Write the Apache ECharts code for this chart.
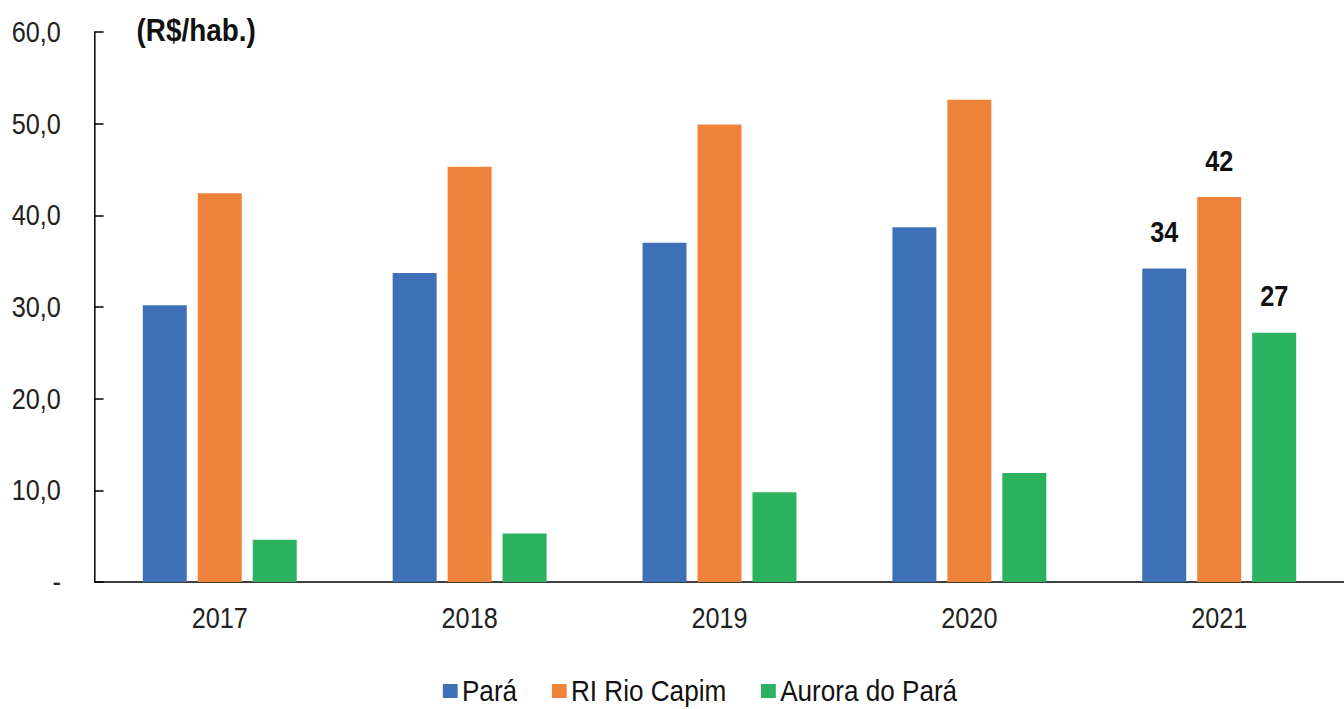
<!DOCTYPE html>
<html>
<head>
<meta charset="utf-8">
<script src="https://cdn.jsdelivr.net/npm/echarts@6/dist/echarts.min.js"></script>
<style>
html,body{margin:0;padding:0;background:#fff;overflow:hidden;width:1344px;height:709px}
/* the reference uses a condensed (Arial Narrow–like) face; emulate by drawing wider and compressing horizontally */
#c{width:1545px;height:709px;transform:scaleX(0.87);transform-origin:0 0}
</style>
</head>
<body>
<div id="c"></div>
<script>
const categories = ['2017', '2018', '2019', '2020', '2021'];
const seriesNames = ['Pará', 'RI Rio Capim', 'Aurora do Pará'];
const para = [30.2, 33.7, 37.0, 38.7, 34.2];
const rioCapim = [42.4, 45.3, 49.9, 52.6, 42.0];
const aurora = [4.6, 5.3, 9.8, 11.9, 27.2];
const labelled = [false, false, false, false, true];
const colors = ['#3E70B8', '#F0833C', '#2AB25E'];

const chart = echarts.init(document.getElementById('c'), null, { renderer: 'svg' });
const font = '"Liberation Sans", Arial, sans-serif';
function mkSeries(name, values, color) {
  return {
    name: name, type: 'bar', barWidth: '17.6%', barGap: '25%',
    itemStyle: { color: color },
    data: values.map((v, i) => ({
      value: v,
      label: { show: labelled[i] }
    })),
    label: {
      position: 'top', distance: 22, fontFamily: font, fontSize: 29, fontWeight: 'bold', color: '#111',
      formatter: p => Math.round(p.value)
    }
  };
}
chart.setOption({
  animation: false,
  title: { text: '(R$/hab.)', left: 152, top: 9, textStyle: { fontFamily: font, fontSize: 32, fontWeight: 'bold', color: '#111' } },
  grid: { left: 109, right: -4, top: 32, bottom: 127, containLabel: false },
  legend: {
    top: 671, left: 504, itemWidth: 17, itemHeight: 14, itemGap: 40, icon: 'rect',
    textStyle: { fontFamily: font, fontSize: 30, color: '#111' },
    data: seriesNames
  },
  xAxis: {
    type: 'category', data: categories,
    axisLine: { lineStyle: { color: '#000', width: 1.5 } },
    axisTick: { inside: true, length: 10, lineStyle: { color: '#000', width: 1.7 } },
    axisLabel: { fontFamily: font, fontSize: 29, color: '#222', margin: 21 }
  },
  yAxis: {
    type: 'value', min: 0, max: 60, interval: 10,
    splitLine: { show: false },
    axisLine: { show: true, lineStyle: { color: '#000', width: 1.7 } },
    axisTick: { show: true, inside: true, length: 10, lineStyle: { color: '#000', width: 1.5 } },
    axisLabel: { fontFamily: font, fontSize: 29, color: '#222', margin: 39,
      formatter: v => v === 0 ? '-' : v.toFixed(1).replace('.', ',') }
  },
  series: [
    mkSeries(seriesNames[0], para, colors[0]),
    mkSeries(seriesNames[1], rioCapim, colors[1]),
    mkSeries(seriesNames[2], aurora, colors[2])
  ]
});
</script>
</body>
</html>
